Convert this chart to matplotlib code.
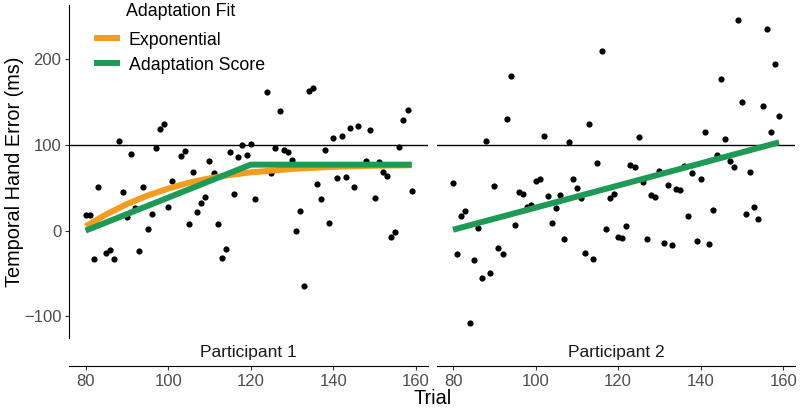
import matplotlib
matplotlib.use("Agg")
import matplotlib.pyplot as plt
from matplotlib.lines import Line2D

plt.rcParams["font.family"] = ["Liberation Sans", "DejaVu Sans"]

ORANGE = "#F39C1E"
GREEN = "#1E9A57"
TICK_GREY = "#4D4D4D"

# participant 1: trial, temporal hand error (ms)
p1_trial = [80, 81, 82, 83, 85, 86, 87, 88, 89, 90, 91, 92, 93, 94, 95, 96, 97, 98, 99,
            100, 101, 103, 104, 105, 106, 107, 108, 109, 110, 111, 112, 113, 114, 115,
            116, 117, 118, 119, 120, 121, 124, 125, 126, 127, 128, 129, 130, 131, 132,
            133, 134, 135, 136, 137, 138, 139, 140, 141, 142, 143, 144, 145, 146, 148,
            149, 150, 151, 152, 153, 154, 155, 156, 157, 158, 159]
p1_error = [17.8, 17.8, -32.6, 50.5, -26, -22.9, -33, 105, 45, 15.8, 89.3, 26, -23.2, 51.4,
            1.4, 19.7, 97, 118.6, 125, 27.9, 58, 87.3, 92.4, 8, 69, 22, 31.9, 39.6, 80.7,
            67.8, 7.6, -32.2, -21.7, 91.2, 43, 86.2, 99.9, 88.5, 101, 36.6, 161.2, 67.8,
            96.7, 140, 93.6, 92, 82.3, -0.2, 22.9, -65, 163.5, 166.7, 54.5, 37, 94, 8.4,
            107.6, 61.2, 110.8, 62.7, 120.2, 51.3, 121.7, 81.1, 117.8, 38.5, 80, 68.2,
            64.2, -7.6, -1.8, 97.1, 129.3, 140.9, 46.7]

# participant 2
p2_trial = list(range(80, 160))
p2_error = [55.3, -27.6, 16.6, 22.9, -107.6, -34.6, 3.3, -55.7, 104.1, -49.8,
            51.8, -20.2, -27.2, 130.4, 180.8, 6.1, 45, 42.8, 27.9, 29.5,
            57.7, 60.7, 110.8, 40, 8.4, 26, 41.3, -10.3, 102.9, 60,
            50.2, 37.7, -25.6, 124.9, -32.6, 79.5, 210, 1.8, 38.5, 42.4,
            -7.3, -8.4, 4.9, 77.1, 74.4, 109.3, 56.5, -10.3, 41.6, 39.6,
            69.8, -14.7, 53.7, -16.2, 48.3, 47.5, 75.6, 16.6, 67.8, -12,
            60.7, 115.1, -15.5, 23.7, 87.7, 177.3, 107.3, 80.7, 74.8, 245.6,
            150.6, 19.7, 69, 27.9, 13.5, 145.6, 235.4, 115.1, 194.8, 134.2]

# fitted curves
p1_exp_trial = [80, 85, 90, 95, 100, 105, 110, 115, 120, 130, 140, 150, 159]
p1_exp_value = [5, 19, 31, 41, 49, 56, 61, 65, 68, 72, 74.5, 75.7, 76.3]
p1_score_trial = [80, 120, 159]
p1_score_value = [0, 77, 77]
p2_score_trial = [80, 159]
p2_score_value = [1, 103]

TARGET = 100
XLIM = (76.05, 162.95)
YLIM = (-125.3, 263.3)

fig = plt.figure(figsize=(8, 4.12), dpi=100)
W, H = 800, 412
bottom = (H - 338) / H
height = 333 / H
ax1 = fig.add_axes([69.3 / W, bottom, 358.7 / W, height])
ax2 = fig.add_axes([436.7 / W, bottom, 358.7 / W, height])

panels = [
    (ax1, p1_trial, p1_error, "Participant 1"),
    (ax2, p2_trial, p2_error, "Participant 2"),
]
for ax, tr, err, name in panels:
    ax.scatter(tr, err, s=20, color="black", linewidths=0, zorder=2)
    ax.axhline(TARGET, color="black", lw=1.0, zorder=1)
    ax.set_xlim(*XLIM)
    ax.set_ylim(*YLIM)
    ax.set_xticks([80, 100, 120, 140, 160])
    for s in ("top", "right"):
        ax.spines[s].set_visible(False)
    ax.spines["bottom"].set_position(("outward", 20.2))
    ax.spines["bottom"].set_linewidth(0.8)
    ax.spines["left"].set_linewidth(0.8)
    ax.tick_params(axis="both", direction="out", length=2.8, width=0.8, color="#333333",
                   labelsize=12, labelcolor=TICK_GREY, pad=3)
    ax.text(0.5, -0.045, name, transform=ax.transAxes, ha="center", va="center",
            fontsize=12.5, color="#1A1A1A")

ax1.plot(p1_exp_trial, p1_exp_value, color=ORANGE, lw=4.3, solid_capstyle="butt", zorder=3)
ax1.plot(p1_score_trial, p1_score_value, color=GREEN, lw=4.3, solid_capstyle="butt", zorder=4)
ax2.plot(p2_score_trial, p2_score_value, color=GREEN, lw=4.3, solid_capstyle="butt", zorder=4)

ax1.set_yticks([-100, 0, 100, 200])
ax2.spines["left"].set_visible(False)
ax2.tick_params(axis="y", left=False, labelleft=False)

handles = [Line2D([], [], color=ORANGE, lw=4.3), Line2D([], [], color=GREEN, lw=4.3)]
leg = ax1.legend(handles, ["Exponential", "Adaptation Score"], title="Adaptation Fit",
                 loc="upper left", bbox_to_anchor=(93 / W, 1 + 1 / H),
                 bbox_transform=fig.transFigure, frameon=False, fontsize=12.8,
                 title_fontsize=12.8, handlelength=1.15, handletextpad=0.65,
                 labelspacing=0.45, borderaxespad=0, borderpad=0.2)
# a little more room between title and keys, as in the original
leg._legend_box.sep = 0.45 * 12.8 + 3.0

fig.text(432.6 / W, 1 - 398 / H, "Trial", ha="center", va="center", fontsize=14.3)
fig.text(15 / W, 1 - 171.5 / H, "Temporal Hand Error (ms)", ha="center", va="center",
         rotation=90, fontsize=14.3)

fig.savefig("out.png", dpi=100)
